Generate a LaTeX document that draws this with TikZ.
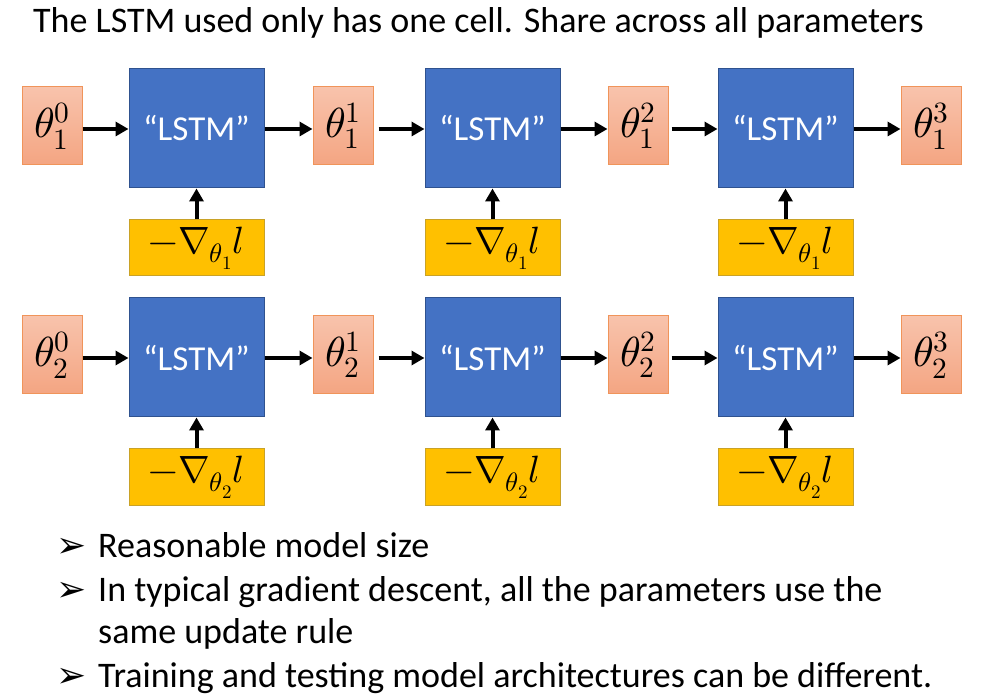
\documentclass[tikz,border=0pt]{standalone}
\usepackage{fontspec}
\usepackage{unicode-math}
\setmainfont{Carlito}
\setmathfont{Latin Modern Math}
\newfontfamily\symfont{DejaVu Sans}
\usetikzlibrary{arrows.meta}
\definecolor{lstmblue}{HTML}{4472C4}
\definecolor{lstmedge}{HTML}{2F528F}
\definecolor{gradfill}{HTML}{FFC000}
\definecolor{gradedge}{HTML}{C9A227}
\definecolor{thtop}{HTML}{F8C3AC}
\definecolor{thbot}{HTML}{F4A582}
\definecolor{thedge}{HTML}{F0945A}
\tikzset{
  thetabox/.style={rectangle, draw=thedge, line width=1pt, top color=thtop, bottom color=thbot,
    minimum width=60pt, minimum height=78pt, inner sep=0pt, font=\fontsize{42}{46}\selectfont},
  lstmbox/.style={rectangle, draw=lstmedge, line width=1pt, fill=lstmblue, text=white,
    minimum width=135pt, minimum height=119pt, inner sep=0pt, font=\fontsize{35}{40}\selectfont},
  gradbox/.style={rectangle, draw=gradedge, line width=1pt, fill=gradfill,
    minimum width=135pt, minimum height=56pt, inner sep=0pt, font=\fontsize{38}{42}\selectfont},
  conn/.style={line width=4pt, -{Triangle[length=13pt,width=14pt]}},
  bullettext/.style={anchor=base west, inner sep=0pt, font=\fontsize{36}{42}\selectfont},
  bulletsym/.style={anchor=base west, inner sep=0pt, font=\symfont\fontsize{36}{40}\selectfont},
}
\begin{document}
\begin{tikzpicture}[x=1pt,y=-1pt]
\useasboundingbox (0,0) rectangle (983,700);
\node[anchor=base west, inner sep=0pt, font=\fontsize{36}{42}\selectfont] (title) at (33,33)
  {The LSTM used only has one cell. Share across all parameters};
\foreach \r/\dy in {1/0,2/229}{
  \node[thetabox] (t\r0) at (52,126+\dy) {$\theta_{\r}^{0}$};
  \node[thetabox] (t\r1) at (343,126+\dy) {$\theta_{\r}^{1}$};
  \node[thetabox] (t\r2) at (638,126+\dy) {$\theta_{\r}^{2}$};
  \node[thetabox] (t\r3) at (931,126+\dy) {$\theta_{\r}^{3}$};
  \node[lstmbox] (l\r1) at (196.5,128.5+\dy) {“LSTM”};
  \node[lstmbox] (l\r2) at (492.5,128.5+\dy) {“LSTM”};
  \node[lstmbox] (l\r3) at (785.5,128.5+\dy) {“LSTM”};
  \node[gradbox] (g\r1) at (196.5,248+\dy) {$-\nabla_{\theta_{\r}}l$};
  \node[gradbox] (g\r2) at (492.5,248+\dy) {$-\nabla_{\theta_{\r}}l$};
  \node[gradbox] (g\r3) at (785.5,248+\dy) {$-\nabla_{\theta_{\r}}l$};
  \draw[conn] (t\r0.east |- 0,129+\dy) -- (l\r1.west |- 0,129+\dy);
  \draw[conn] (l\r1.east |- 0,129+\dy) -- (t\r1.west |- 0,129+\dy);
  \draw[conn, shorten <=5pt] (t\r1.east |- 0,129+\dy) -- (l\r2.west |- 0,129+\dy);
  \draw[conn] (l\r2.east |- 0,129+\dy) -- (t\r2.west |- 0,129+\dy);
  \draw[conn, shorten <=3pt] (t\r2.east |- 0,129+\dy) -- (l\r3.west |- 0,129+\dy);
  \draw[conn] (l\r3.east |- 0,129+\dy) -- (t\r3.west |- 0,129+\dy);
  \draw[conn] (g\r1.north) -- (l\r1.south);
  \draw[conn] (g\r2.north) -- (l\r2.south);
  \draw[conn] (g\r3.north) -- (l\r3.south);
}
\node[bulletsym] (b1) at (56,557) {➢};
\node[bulletsym] (b2) at (56,601) {➢};
\node[bulletsym] (b3) at (56,687) {➢};
\node[bullettext] (s1) at (98,557) {Reasonable model size};
\node[bullettext] (s2) at (98,601) {In typical gradient descent, all the parameters use the};
\node[bullettext] (s2b) at (98,643) {same update rule};
\node[bullettext] (s3) at (98,687) {Training and testing model architectures can be different.};
\end{tikzpicture}
\end{document}
